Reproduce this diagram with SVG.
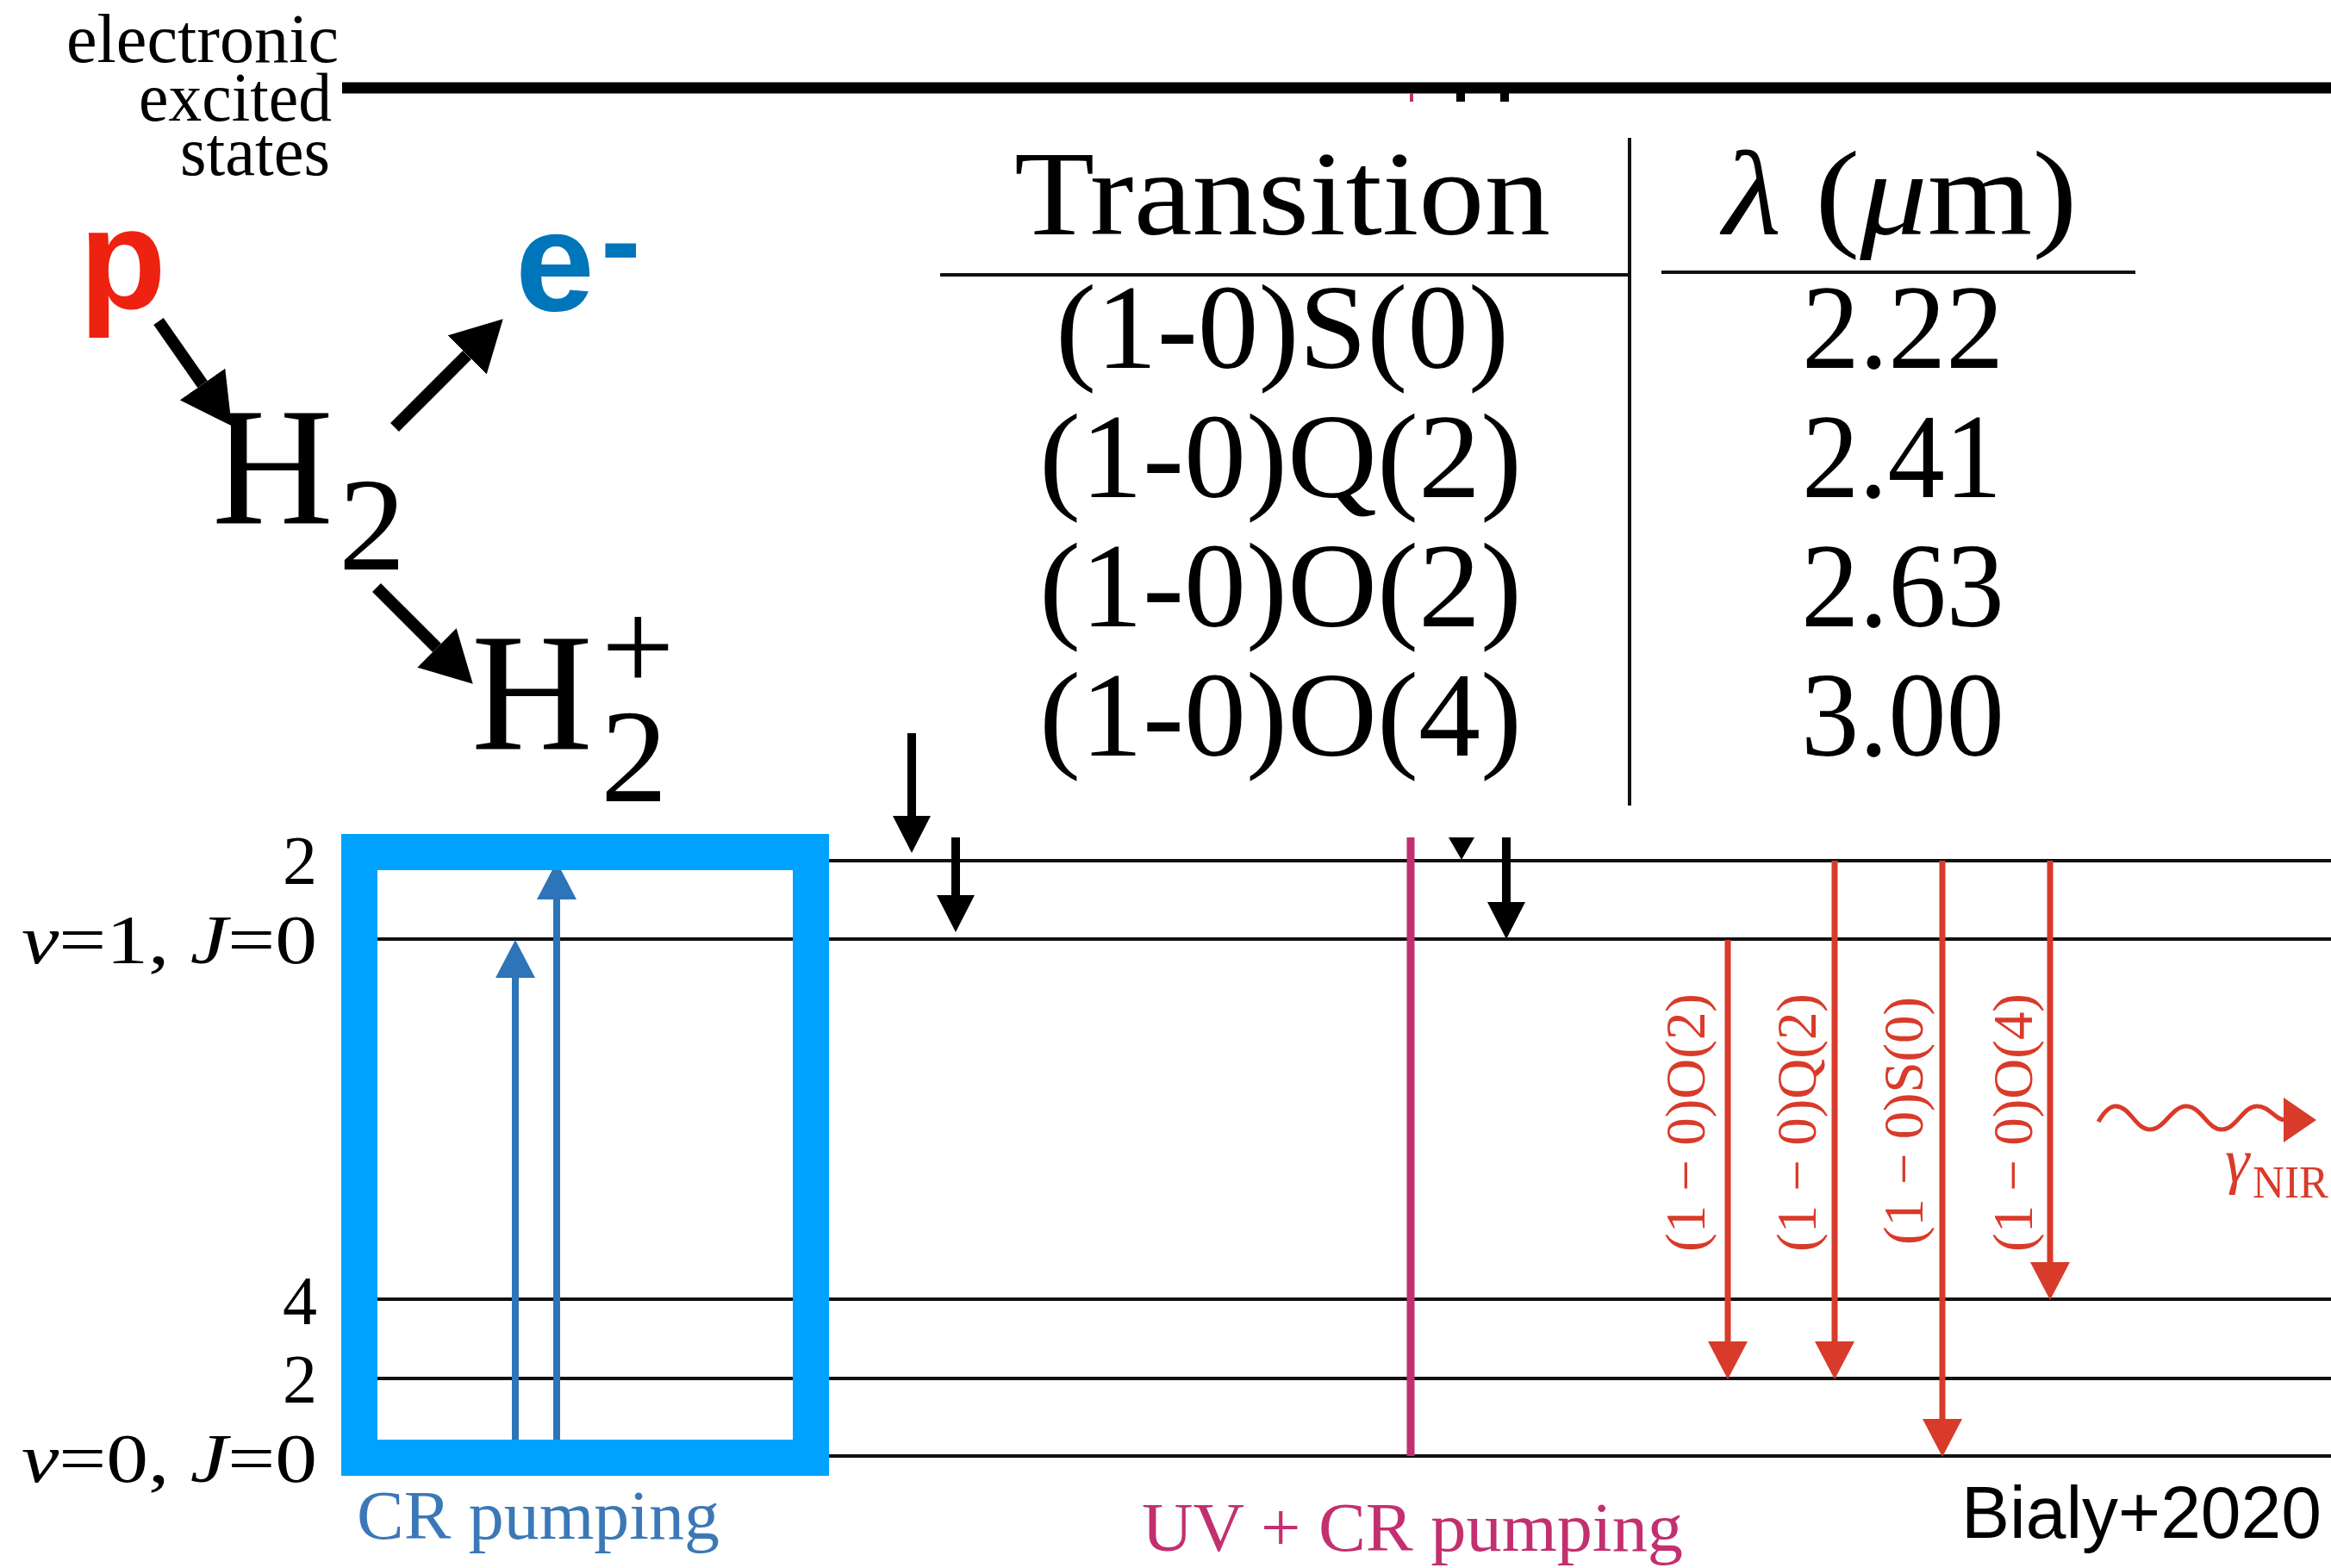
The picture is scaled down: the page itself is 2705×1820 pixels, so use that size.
<svg xmlns="http://www.w3.org/2000/svg" width="2705" height="1820" viewBox="0 0 2705 1820">
<style>
.serif{font-family:"Liberation Serif","Times New Roman",serif}
.sans{font-family:"Liberation Sans",Arial,sans-serif}
.lvl{stroke:#111;stroke-width:4;fill:none}
.blk{stroke:#000;stroke-width:10;fill:none}
.rxn{stroke:#000;stroke-width:14;fill:none}
.redA{stroke:#d83b2a;stroke-width:7;fill:none}
.bluA{stroke:#2e74b8;stroke-width:8;fill:none}
.redT{fill:#d83b2a}
.rule{stroke:#111;stroke-width:4}
.tbl{font-size:140px}
</style>
<defs>
<marker id="ahBlack" viewBox="0 -22 43 44" refX="0" refY="0" markerWidth="43" markerHeight="44" markerUnits="userSpaceOnUse" orient="auto"><path d="M0,-22 L43,0 L0,22 z" fill="#000"/></marker>
<marker id="ahBig" viewBox="0 -32 59 64" refX="0" refY="0" markerWidth="59" markerHeight="64" markerUnits="userSpaceOnUse" orient="auto"><path d="M0,-32 L59,0 L0,32 z" fill="#000"/></marker>
<marker id="ahRed" viewBox="0 -23 44 46" refX="0" refY="0" markerWidth="44" markerHeight="46" markerUnits="userSpaceOnUse" orient="auto"><path d="M0,-23 L44,0 L0,23 z" fill="#d83b2a"/></marker>
<marker id="ahBlue" viewBox="0 -23 44 46" refX="0" refY="0" markerWidth="44" markerHeight="46" markerUnits="userSpaceOnUse" orient="auto"><path d="M0,-23 L44,0 L0,23 z" fill="#2e74b8"/></marker>
</defs>
<rect width="2705" height="1820" fill="#fff"/>

<g id="electronic-states-label" class="serif" font-size="80" fill="#000">
<text x="77" y="72" textLength="316" lengthAdjust="spacingAndGlyphs">electronic</text>
<text x="161" y="140" textLength="224" lengthAdjust="spacingAndGlyphs">excited</text>
<text x="209" y="203" textLength="174" lengthAdjust="spacingAndGlyphs">states</text>
</g>
<g id="electronic-level"><line x1="397" y1="102" x2="2705" y2="102" stroke="#000" stroke-width="13"/></g>

<g id="levels">
<line class="lvl" x1="420" y1="999" x2="2705" y2="999"/>
<line class="lvl" x1="420" y1="1090" x2="2705" y2="1090"/>
<line class="lvl" x1="420" y1="1508" x2="2705" y2="1508"/>
<line class="lvl" x1="420" y1="1600" x2="2705" y2="1600"/>
<line class="lvl" x1="420" y1="1690" x2="2705" y2="1690"/>
</g>

<g id="level-labels" class="serif" font-size="80" fill="#000" text-anchor="end">
<text x="368" y="1026">2</text>
<text x="368" y="1118" textLength="343" lengthAdjust="spacingAndGlyphs"><tspan font-style="italic">v</tspan>=1, <tspan font-style="italic">J</tspan>=0</text>
<text x="368" y="1537">4</text>
<text x="368" y="1628">2</text>
<text x="368" y="1720" textLength="343" lengthAdjust="spacingAndGlyphs"><tspan font-style="italic">v</tspan>=0, <tspan font-style="italic">J</tspan>=0</text>
</g>

<g id="reaction">
<text id="proton" class="sans" x="92" y="358" font-size="165" font-weight="bold" fill="#ee2210">p</text>
<text id="electron" class="sans" x="598" y="360" font-size="165" font-weight="bold" fill="#0076ba">e<tspan x="697" y="327" font-size="140">-</tspan></text>
<text id="h2" class="serif" x="246" y="608" font-size="195" fill="#000">H<tspan x="393" y="661" font-size="155">2</tspan></text>
<text id="h2plus" class="serif" x="547" y="870" font-size="195" fill="#000">H<tspan x="697" y="930" font-size="155">2</tspan><tspan x="698" y="801" font-size="150">+</tspan></text>
</g>

<g id="table" class="serif tbl" fill="#000">
<line class="rule" x1="1891" y1="160" x2="1891" y2="935"/>
<line class="rule" x1="1091" y1="319" x2="1891" y2="319"/>
<line class="rule" x1="1928" y1="316" x2="2478" y2="316"/>
<text x="1488" y="272" text-anchor="middle" textLength="622" lengthAdjust="spacingAndGlyphs">Transition</text>
<text x="2205" y="272" text-anchor="middle" textLength="411" lengthAdjust="spacingAndGlyphs"><tspan font-style="italic">λ</tspan> (<tspan font-style="italic">μ</tspan>m)</text>
<text x="1488" y="427" text-anchor="middle" textLength="526" lengthAdjust="spacingAndGlyphs">(1-0)S(0)</text>
<text x="1486" y="577" text-anchor="middle" textLength="560" lengthAdjust="spacingAndGlyphs">(1-0)Q(2)</text>
<text x="1486" y="727" text-anchor="middle" textLength="560" lengthAdjust="spacingAndGlyphs">(1-0)O(2)</text>
<text x="1486" y="877" text-anchor="middle" textLength="560" lengthAdjust="spacingAndGlyphs">(1-0)O(4)</text>
<text x="2208" y="427" text-anchor="middle" textLength="234" lengthAdjust="spacingAndGlyphs">2.22</text>
<text x="2207" y="577" text-anchor="middle" textLength="232" lengthAdjust="spacingAndGlyphs">2.41</text>
<text x="2208" y="727" text-anchor="middle" textLength="236" lengthAdjust="spacingAndGlyphs">2.63</text>
<text x="2208" y="877" text-anchor="middle" textLength="236" lengthAdjust="spacingAndGlyphs">3.00</text>
</g>

<g id="connectors">
<line class="rxn" x1="184" y1="373" x2="235" y2="446" marker-end="url(#ahBig)"/>
<line class="rxn" x1="458" y1="496" x2="542" y2="412" marker-end="url(#ahBig)"/>
<line class="rxn" x1="437" y1="682" x2="507" y2="752" marker-end="url(#ahBig)"/>

<line class="blk" x1="1058" y1="851" x2="1058" y2="947" marker-end="url(#ahBlack)"/>
<line class="blk" x1="1109" y1="972" x2="1109" y2="1039" marker-end="url(#ahBlack)"/>
<line class="blk" x1="1748" y1="972" x2="1748" y2="1047" marker-end="url(#ahBlack)"/>
<polygon points="1681,972 1711,972 1696,998" fill="#000"/>
<line class="blk" x1="1695" y1="106" x2="1695" y2="118"/>
<line class="blk" x1="1746" y1="106" x2="1746" y2="118"/>
<line x1="1638" y1="108" x2="1638" y2="118" stroke="#c2306f" stroke-width="4"/>
<line x1="1637" y1="972" x2="1637" y2="1690" stroke="#c2306f" stroke-width="9"/>

<line class="redA" x1="2005" y1="1091" x2="2005" y2="1557" marker-end="url(#ahRed)"/>
<line class="redA" x1="2129" y1="999" x2="2129" y2="1557" marker-end="url(#ahRed)"/>
<line class="redA" x1="2254" y1="999" x2="2254" y2="1647" marker-end="url(#ahRed)"/>
<line class="redA" x1="2379" y1="999" x2="2379" y2="1465" marker-end="url(#ahRed)"/>

<path d="M2435,1302 C2442,1290 2448,1284 2455,1284 C2472,1284 2478,1311 2495,1311 C2512,1311 2520,1284 2537,1284 C2554,1284 2562,1311 2578,1311 C2595,1311 2603,1284 2619,1284 C2634,1284 2640,1300 2652,1300" fill="none" stroke="#d83b2a" stroke-width="5"/>
<polygon points="2650,1274 2688,1300 2650,1326" fill="#d83b2a"/>

<line class="bluA" x1="598" y1="1690" x2="598" y2="1135" marker-end="url(#ahBlue)"/>
<line class="bluA" x1="646" y1="1690" x2="646" y2="1044" marker-end="url(#ahBlue)"/>
</g>

<g id="cr-box"><rect x="417" y="989" width="524" height="703" fill="none" stroke="#00a2ff" stroke-width="42"/></g>

<g id="transition-labels" class="serif redT" font-size="66" text-anchor="middle">
<text transform="translate(1978,1303) rotate(-90)" textLength="300" lengthAdjust="spacingAndGlyphs">(1 − 0)O(2)</text>
<text transform="translate(2107,1303) rotate(-90)" textLength="300" lengthAdjust="spacingAndGlyphs">(1 − 0)Q(2)</text>
<text transform="translate(2231,1301) rotate(-90)" textLength="288" lengthAdjust="spacingAndGlyphs">(1 − 0)S(0)</text>
<text transform="translate(2358,1303) rotate(-90)" textLength="300" lengthAdjust="spacingAndGlyphs">(1 − 0)O(4)</text>
</g>
<g id="gamma-label" class="serif redT">
<text x="2582" y="1372" font-size="72" font-style="italic">γ</text>
<text x="2614" y="1390" font-size="52" textLength="88" lengthAdjust="spacingAndGlyphs">NIR</text>
</g>

<text id="cr-label" class="serif" x="414" y="1786" font-size="80" fill="#3b78b7" textLength="421" lengthAdjust="spacingAndGlyphs">CR pumping</text>
<text id="uvcr-label" class="serif" x="1325" y="1800" font-size="80" fill="#c2306f" textLength="628" lengthAdjust="spacingAndGlyphs">UV + CR pumping</text>
<text id="citation" class="sans" x="2276" y="1785" font-size="85" fill="#000" textLength="418" lengthAdjust="spacingAndGlyphs">Bialy+2020</text>
</svg>
